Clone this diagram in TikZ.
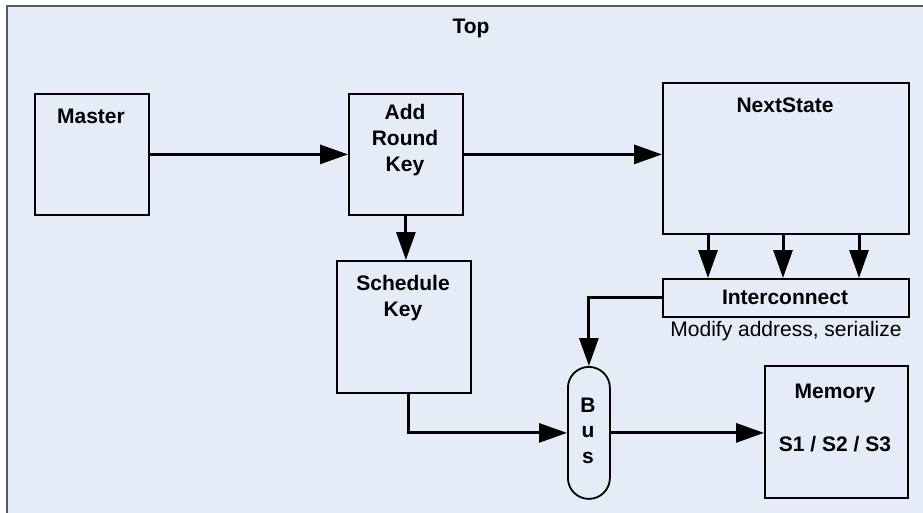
\documentclass[tikz,border=0pt]{standalone}
\usepackage{fontspec}
\setmainfont{Liberation Sans}
\usetikzlibrary{arrows.meta,calc}
\definecolor{bg}{RGB}{229,236,247}
\definecolor{framegray}{RGB}{90,90,90}

\begin{document}
\begin{tikzpicture}[x=1pt,y=-1pt,
  box/.style={draw=black,line width=1.8pt,fill=bg,inner sep=0pt,anchor=north west},
  lbl/.style={font=\bfseries\fontsize{21}{26}\selectfont,align=center,inner sep=0pt},
  note/.style={font=\fontsize{21}{24}\selectfont,inner sep=0pt},
  flow/.style={line width=3pt,-{Triangle[length=28pt,width=19pt]}}]

% page and outer frame
\useasboundingbox (0,0) rectangle (923,513);
\fill[white] (0,0) rectangle (923,513);
\path[fill=bg,draw=framegray,line width=2pt] (7,6) rectangle (945,535);

% blocks
\node[box,minimum width=114pt,minimum height=121pt] (master) at (34,93) {};
\node[box,minimum width=114pt,minimum height=121pt] (ark) at (348,93) {};
\node[box,minimum width=246pt,minimum height=151pt] (next) at (662,82) {};
\node[box,minimum width=134pt,minimum height=132pt] (sched) at (336,260) {};
\node[box,minimum width=246pt,minimum height=38pt] (inter) at (662,278) {};
\node[box,minimum width=42pt,minimum height=132pt,rounded corners=21pt] (bus) at (567,366) {};
\node[box,minimum width=143pt,minimum height=132pt] (mem) at (764,365) {};

% labels
\node[lbl] (toplbl) at (471,28) {Top};
\node[lbl] (masterlbl) at (91,116) {Master};
\node[lbl] (arklbl) at (405,140) {Add\\Round\\Key};
\node[lbl] (nextlbl) at (785,105) {NextState};
\node[lbl] (schedlbl) at (403,298) {Schedule\\Key};
\node[lbl] (interlbl) at (785,297) {Interconnect};
\node[note] (internote) at (786,331) {Modify address, serialize};
\node[lbl] (busb) at (588,405) {B};
\node[lbl] (busu) at (588,432) {u};
\node[lbl] (buss) at (588,458) {s};
\node[lbl] (memlbl) at (835,393) {Memory};
\node[lbl] (memsub) at (835,444) {S1 / S2 / S3};

% connectors
\draw[flow] (master.east) -- (ark.west);
\draw[flow] (ark.east) -- (ark.east -| next.west);
\draw[flow] (ark.south) -- (ark.south |- sched.north);
\foreach \dx [count=\i] in {46,121,197} {
  \coordinate (tap\i) at ($(next.south west)+(\dx,0)$);
  \draw[flow] (tap\i) -- (tap\i |- inter.north);
}
\coordinate (schedout) at ($(sched.south)+(5,0)$);
\draw[flow] (schedout) |- (bus.west);
\draw[flow] (inter.west) -| (bus.north);
\draw[flow] (bus.east) -- (bus.east -| mem.west);
\end{tikzpicture}
\end{document}
